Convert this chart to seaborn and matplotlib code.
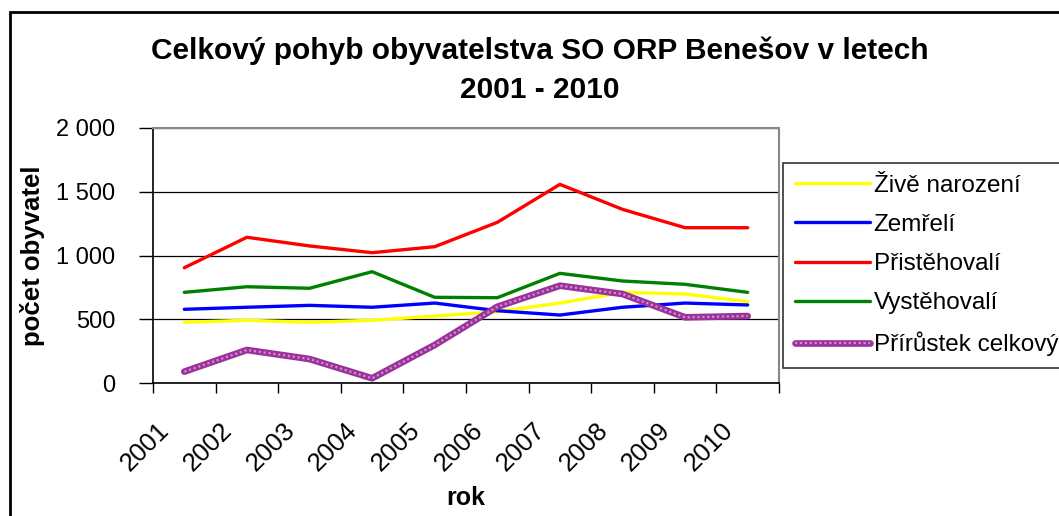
import pandas as pd
import matplotlib.pyplot as plt
import seaborn as sns
from matplotlib.patches import Rectangle
from matplotlib.transforms import ScaledTranslation
from matplotlib.legend_handler import HandlerTuple

# data
years = ["2001", "2002", "2003", "2004", "2005", "2006", "2007", "2008", "2009", "2010"]
zive_narozeni = [476, 492, 476, 492, 525, 559, 627, 711, 698, 638]
zemreli = [578, 594, 609, 594, 627, 567, 533, 594, 627, 612]
pristehovali = [904, 1143, 1075, 1022, 1069, 1260, 1558, 1362, 1218, 1218]
vystehovali = [711, 755, 743, 873, 672, 669, 860, 800, 774, 711]
prirustek = [89, 259, 188, 37, 298, 598, 763, 698, 515, 525]

series = {
    "Živě narození": (zive_narozeni, "#ffff00"),
    "Zemřelí": (zemreli, "#0000ff"),
    "Přistěhovalí": (pristehovali, "#ff0000"),
    "Vystěhovalí": (vystehovali, "#008000"),
}

sns.set_style("white")
plt.rcParams['font.family'] = ['Liberation Sans', 'DejaVu Sans']
plt.rcParams['text.color'] = 'black'
plt.rcParams['axes.labelcolor'] = 'black'
plt.rcParams['xtick.color'] = 'black'
plt.rcParams['ytick.color'] = 'black'

fig = plt.figure(figsize=(10.59, 5.16), dpi=100)
ax = fig.add_axes([153 / 1059, 1 - 383 / 516, (779 - 153) / 1059, (383 - 128) / 516])

pos = list(range(len(years)))
handles, labels = [], []
for name, (vals, col) in series.items():
    df = pd.DataFrame({"rok": pos, "pocet": vals})
    sns.lineplot(data=df, x="rok", y="pocet", ax=ax, color=col, linewidth=2.4,
                 legend=False)
    handles.append(ax.lines[-1])
    labels.append(name)

# textured purple line: solid base + light dotted overlay
df = pd.DataFrame({"rok": pos, "pocet": prirustek})
sns.lineplot(data=df, x="rok", y="pocet", ax=ax, color="#993399", linewidth=4.8, legend=False)
base = ax.lines[-1]
sns.lineplot(data=df, x="rok", y="pocet", ax=ax, color="#d58ad5", linewidth=1.6,
             linestyle=(0, (1, 1.2)), legend=False)
over = ax.lines[-1]
handles.append((base, over))
labels.append("Přírůstek celkový")

ax.set_xlim(-0.5, 9.5)
ax.set_ylim(0, 2000)
ax.set_yticks([0, 500, 1000, 1500, 2000])
ax.set_yticklabels(["0", "500", "1 000", "1 500", "2 000"], fontsize=17)
ax.yaxis.grid(True, color="black", linewidth=0.9)
ax.set_axisbelow(True)

# category labels, rotated, drawn on the x axis transform
ax.set_xticks([p - 0.5 for p in pos] + [9.5])
ax.set_xticklabels([])
shift = ScaledTranslation(-27 / 100, -35 / 100, fig.dpi_scale_trans)
for p, yr in zip(pos, years):
    ax.text(p, 0, yr, transform=ax.get_xaxis_transform() + shift, rotation=45,
            ha="right", va="top", rotation_mode="anchor", fontsize=18.5)
ax.tick_params(axis="x", length=7, width=1, color="black", direction="out", bottom=True)
ax.tick_params(axis="y", length=10, width=1, color="black", direction="out", left=True, pad=17)

for s in ["left", "bottom"]:
    ax.spines[s].set_color("black")
    ax.spines[s].set_linewidth(1.2)
for s in ["top", "right"]:
    ax.spines[s].set_color("#888888")
    ax.spines[s].set_linewidth(1.5)

ax.set_xlabel("rok", fontsize=18, fontweight="bold")
ax.xaxis.set_label_coords(0.5, -0.405)
ax.set_ylabel("počet obyvatel", fontsize=18.5, fontweight="bold")
ax.yaxis.set_label_coords(-0.1725, 0.5)

fig.suptitle("Celkový pohyb obyvatelstva SO ORP Benešov v letech\n2001 - 2010",
             x=0.51, y=0.93, fontsize=21.5, fontweight="bold", linespacing=1.5)

leg = ax.legend(handles, labels, handler_map={tuple: HandlerTuple(ndivide=1)},
                loc="upper left", bbox_to_anchor=(783 / 1059, 1 - 163 / 516),
                bbox_transform=fig.transFigure, fontsize=17.5, frameon=True,
                fancybox=False, edgecolor="black", handlelength=3.1,
                handletextpad=0.15, labelspacing=0.71, borderpad=0.48, borderaxespad=0)
leg.get_frame().set_linewidth(1.2)

# outer chart frame
fig.patches.append(Rectangle((10 / 1059, -0.05), 1.2, 1 - 12 / 516 + 0.05,
                             transform=fig.transFigure, fill=False,
                             edgecolor="black", linewidth=2))

plt.savefig("out.png", dpi=100)
